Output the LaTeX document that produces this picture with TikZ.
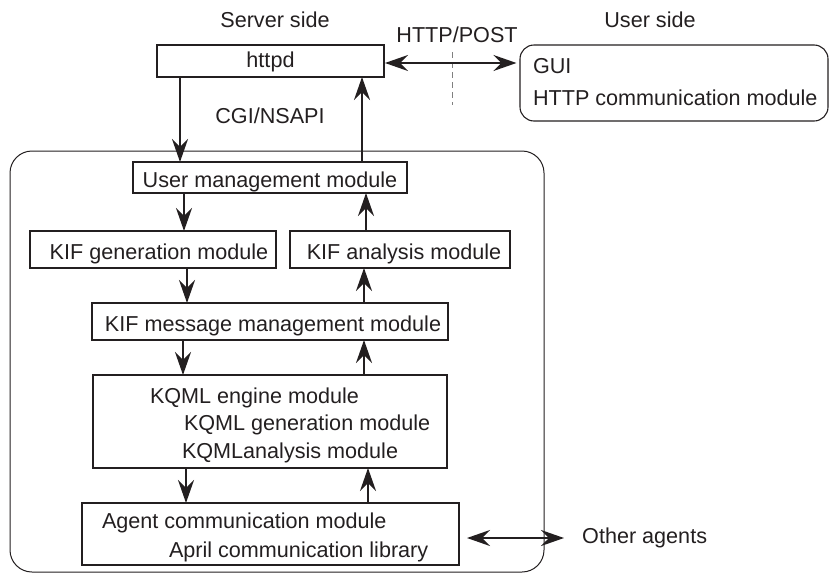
\documentclass[tikz,border=0pt]{standalone}
\usepackage{fontspec}
\setmainfont{Liberation Sans}
\usetikzlibrary{arrows.meta}
\definecolor{ink}{HTML}{231F20}
\begin{document}
\begin{tikzpicture}[x=1pt,y=-1pt,
  font=\fontsize{21.6}{25}\selectfont,
  every node/.style={text=ink},
  box/.style={draw=ink, line width=1.1pt, inner sep=0pt, outer sep=0pt,
              text height=19pt, text depth=0pt},
  txt/.style={inner sep=0pt, outer sep=0pt, anchor=base west},
  ctxt/.style={inner sep=0pt, outer sep=0pt, anchor=base},
  tip/.tip={Stealth[length=23pt,width=16pt,inset=8pt]},
  arr/.style={draw=ink, line width=2pt, -tip},
  arrtwo/.style={draw=ink, line width=2pt, tip-tip}]
\useasboundingbox (0,0) rectangle (834,573);

% server-side enclosure
\node[draw=ink, line width=1pt, rounded corners=22pt, minimum width=534pt,
      minimum height=421pt, inner sep=0pt] (core) at (277,361.5) {};

% web server and client
\node[box, minimum width=227pt, minimum height=32pt, text height=12pt] (httpd) at (270.5,61) {httpd};
\node[draw=ink, line width=1.1pt, rounded corners=14pt, minimum width=308pt,
      minimum height=76pt, inner sep=0pt] (user) at (674,83) {};
\node[txt] (gui) at (533,73) {GUI};
\node[txt] (hcm) at (533,105) {HTTP communication module};

% headings and protocol labels
\node[ctxt] (srv) at (275,27) {Server side};
\node[ctxt] (usr) at (650,27) {User side};
\node[ctxt] (post) at (457,42) {HTTP/POST};
\node[ctxt] (cgi) at (270,123) {CGI/NSAPI};
\draw[gray, line width=0.9pt, dash pattern=on 6pt off 4pt] (452,52) -- (452,105);

% module stack
\node[box, minimum width=274pt, minimum height=31pt] (um) at (270,177.5) {User management module};
\node[box, minimum width=246pt, minimum height=37pt] (kg) at (153,249.5) {\hspace*{12pt}KIF generation module};
\node[box, minimum width=220pt, minimum height=37pt] (ka) at (400,249.5) {\hspace*{8pt}KIF analysis module};
\node[box, minimum width=356pt, minimum height=37pt] (km) at (270,321.5) {\hspace*{6pt}KIF message management module};
\node[box, minimum width=354pt, minimum height=93pt] (kq) at (270,421.5) {};
\node[txt] (kq1) at (150,403) {KQML engine module};
\node[txt] (kq2) at (184,430) {KQML generation module};
\node[txt] (kq3) at (182,458) {KQMLanalysis module};
\node[box, minimum width=377pt, minimum height=62pt] (ag) at (270.5,534) {};
\node[txt] (ag1) at (102,528) {Agent communication module};
\node[txt] (ag2) at (169,557) {April communication library};
\node[inner sep=0pt, anchor=west] (oth) at (582,538) {Other agents};

% request path (down) and reply path (up)
\draw[arr] ([xshift=-90.5pt]httpd.south) -- ([xshift=-90.5pt]httpd.south |- um.north);
\draw[arr] ([xshift=92pt]um.north) -- ([xshift=92pt]um.north |- httpd.south);
\draw[arr] ([xshift=-86pt]um.south) -- ([xshift=-86pt]um.south |- kg.north);
\draw[arr] ([xshift=-34pt]ka.north) -- ([xshift=-34pt]ka.north |- um.south);
\draw[arr] ([xshift=34pt]kg.south) -- ([xshift=34pt]kg.south |- km.north);
\draw[arr] ([xshift=94pt]km.north) -- ([xshift=94pt]km.north |- ka.south);
\draw[arr] ([xshift=-87pt]km.south) -- ([xshift=-87pt]km.south |- kq.north);
\draw[arr] ([xshift=94pt]kq.north) -- ([xshift=94pt]kq.north |- km.south);
\draw[arr] ([xshift=-84pt]kq.south) -- ([xshift=-84pt]kq.south |- ag.north);
\draw[arr] ([xshift=97.5pt]ag.north) -- ([xshift=97.5pt]ag.north |- kq.south);

% exchanges with the outside
\draw[arrtwo] ([xshift=1pt,yshift=-2pt]httpd.east) -- ([xshift=-3pt,yshift=-2pt]httpd.east -| user.west);
\draw[arrtwo] ([xshift=8pt,yshift=-4pt]ag.east) -- ([xshift=-18pt]oth.west);
\end{tikzpicture}
\end{document}
